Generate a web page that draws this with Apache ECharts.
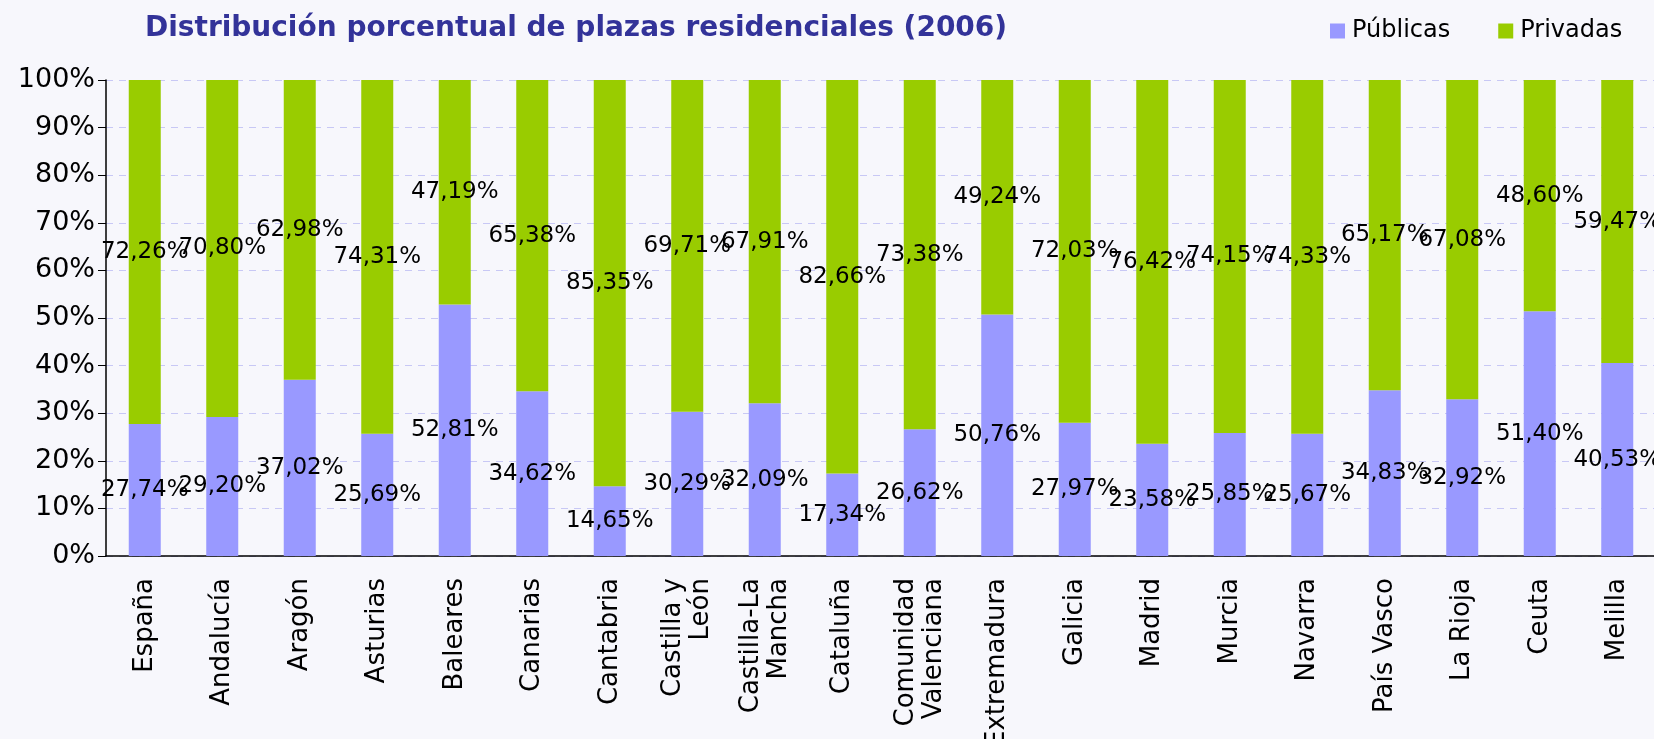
<!DOCTYPE html>
<html>
<head>
<meta charset="utf-8">
<script src="https://cdn.jsdelivr.net/npm/echarts@6/dist/echarts.min.js"></script>
<style>
  html, body { margin: 0; padding: 0; background: #f7f7fc; }
  #chart { width: 1654px; height: 739px; }
</style>
</head>
<body>
<div id="chart"></div>
<script>
const regiones = [
  'España', 'Andalucía', 'Aragón', 'Asturias', 'Baleares', 'Canarias', 'Cantabria',
  'Castilla y\nLeón', 'Castilla-La\nMancha', 'Cataluña', 'Comunidad\nValenciana',
  'Extremadura', 'Galicia', 'Madrid', 'Murcia', 'Navarra', 'País Vasco', 'La Rioja',
  'Ceuta', 'Melilla'
]
const publicas = [27.74, 29.20, 37.02, 25.69, 52.81, 34.62, 14.65, 30.29, 32.09, 17.34,
  26.62, 50.76, 27.97, 23.58, 25.85, 25.67, 34.83, 32.92, 51.40, 40.53]
const privadas = [72.26, 70.80, 62.98, 74.31, 47.19, 65.38, 85.35, 69.71, 67.91, 82.66,
  73.38, 49.24, 72.03, 76.42, 74.15, 74.33, 65.17, 67.08, 48.60, 59.47]

const font = 'DejaVu Sans'
const pct = (v) => v.toFixed(2).replace('.', ',') + '%'

const chart = echarts.init(document.getElementById('chart'))
chart.setOption({
  backgroundColor: '#f7f7fc',
  animation: false,
  textStyle: { fontFamily: font, color: '#000' },
  title: {
    text: 'Distribución porcentual de plazas residenciales (2006)',
    left: 140,
    top: 10,
    textStyle: { fontFamily: font, fontSize: 28, fontWeight: 'bold', color: '#333399' },
  },
  legend: {
    left: 1325,
    top: 14,
    itemWidth: 15,
    itemHeight: 15,
    itemGap: 48,
    icon: 'rect',
    textStyle: { fontFamily: font, fontSize: 24, color: '#000', padding: [0, 0, 0, 2] },
    data: ['Públicas', 'Privadas'],
  },
  grid: { left: 106, right: -2, top: 80, bottom: 183, outerBoundsMode: 'none' },
  xAxis: {
    type: 'category',
    data: regiones,
    axisLine: { lineStyle: { color: '#000', width: 1.5 } },
    axisTick: { length: 10, lineStyle: { color: '#000' } },
    axisLabel: {
      rotate: 90,
      margin: 22,
      fontSize: 26,
      lineHeight: 28,
      color: '#000',
      interval: 0,
    },
  },
  yAxis: {
    type: 'value',
    min: 0,
    max: 100,
    interval: 10,
    axisLine: { show: true, lineStyle: { color: '#000', width: 1.5 } },
    axisTick: { show: true, length: 8, lineStyle: { color: '#000' } },
    axisLabel: { formatter: '{value}%', fontSize: 27, color: '#000', margin: 11 },
    splitLine: { lineStyle: { color: '#c8c8f5', type: [7, 6], width: 1.2 } },
  },
  series: [
    {
      name: 'Públicas',
      type: 'bar',
      stack: 'total',
      barWidth: 32,
      data: publicas,
      itemStyle: { color: '#9999ff' },
      label: { show: true, position: 'inside', fontSize: 23, color: '#000', formatter: (p) => pct(p.value) },
    },
    {
      name: 'Privadas',
      type: 'bar',
      stack: 'total',
      barWidth: 32,
      data: privadas,
      itemStyle: { color: '#99cc00' },
      label: { show: true, position: 'inside', fontSize: 23, color: '#000', formatter: (p) => pct(p.value) },
    },
  ],
})
</script>
</body>
</html>
